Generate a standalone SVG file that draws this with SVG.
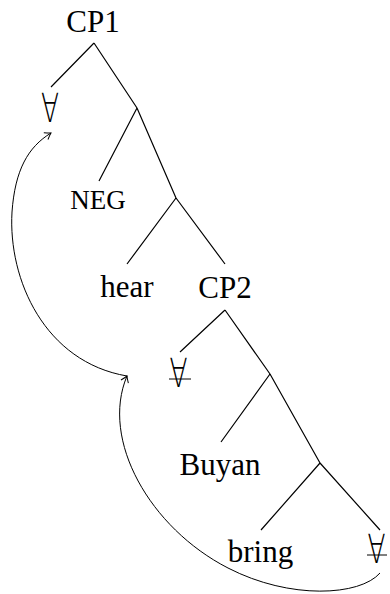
<svg xmlns="http://www.w3.org/2000/svg" width="390" height="594" viewBox="0 0 390 594">
<style>
.lbl{font-family:"Liberation Serif","Times New Roman",serif;font-size:31px;fill:#000;text-anchor:middle}
.sc{font-size:27px}
.q{font-family:"DejaVu Sans",sans-serif;font-weight:200;font-size:40px;fill:#000;text-anchor:middle}
.e{stroke:#000;stroke-width:1.2;fill:none}
.mv{stroke:#000;stroke-width:1;fill:none}
</style>
<defs>
<marker id="ah" viewBox="-8 -5 10 10" markerWidth="10" markerHeight="10" refX="0" refY="0" orient="auto" markerUnits="userSpaceOnUse">
<path d="M-6,-4 Q-2,-1 0,0 Q-2,1 -6,4" fill="none" stroke="#000" stroke-width="1"/>
</marker>
</defs>
<g id="edges">
<path class="e" d="M94,43 L51,87 M94,43 L137,108"/>
<path class="e" d="M137,108 L99,181 M137,108 L176,198"/>
<path class="e" d="M176,198 L127,264 M176,198 L225,264"/>
<path class="e" d="M225,310 L180,352 M225,310 L270,374"/>
<path class="e" d="M270,374 L221,442 M270,374 L320,463"/>
<path class="e" d="M320,463 L261,530 M320,463 L380,530"/>
</g>
<g id="connectors">
<path class="mv" d="M127,376 C45,362 8,280 12,212 C15,170 28,147 51,133" marker-end="url(#ah)"/>
<path class="mv" d="M380,573 C360,596 290,600 228,568 C150,528 100,440 127,376" marker-end="url(#ah)"/>
</g>
<g id="CP1"><text class="lbl" x="93" y="32">CP1</text></g>
<g id="forall1"><text class="q" transform="translate(50,122) scale(0.66,1)">∀</text></g>
<g id="NEG"><text class="lbl sc" x="98" y="209">NEG</text></g>
<g id="hear"><text class="lbl" x="127" y="297">hear</text></g>
<g id="CP2"><text class="lbl" x="225" y="298">CP2</text></g>
<g id="forall2"><text class="q" transform="translate(178.5,387) scale(0.66,1)">∀</text><path class="mv" d="M169,379 H191"/></g>
<g id="Buyan"><text class="lbl" x="220" y="475">Buyan</text></g>
<g id="bring"><text class="lbl" x="260.5" y="562">bring</text></g>
<g id="forall3"><text class="q" transform="translate(376.5,563) scale(0.66,1)">∀</text><path class="mv" d="M367,555 H387"/></g>
</svg>
